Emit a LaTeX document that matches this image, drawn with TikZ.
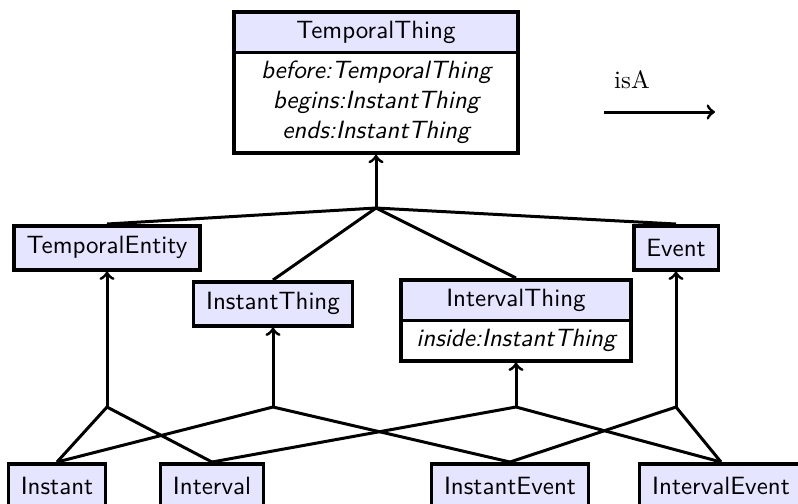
\documentclass[tikz,border=0pt]{standalone}
\usetikzlibrary{shapes.multipart}
\begin{document}
\begin{tikzpicture}[x=0.4pt,y=-0.4pt,
  cls/.style={draw, line width=1.4pt, fill=blue!10, font=\sffamily,
    inner xsep=5pt, minimum height=17.6pt, anchor=north},
  clsx/.style={rectangle split, rectangle split parts=2, draw, line width=1.4pt,
    rectangle split part fill={blue!10,white}, font=\sffamily, align=center,
    inner ysep=2.9pt, anchor=north},
  link/.style={line width=1.2pt},
  isa/.style={line width=1.2pt, ->}]
\useasboundingbox (0,0) rectangle (798,503);
\clip (0,0) rectangle (798,503);

% classes
\node[clsx, minimum width=113.6pt] (tt) at (376,10)
  {TemporalThing\nodepart{second}\itshape before:TemporalThing\\ \itshape begins:InstantThing\\ \itshape ends:InstantThing};
\node[cls] (te) at (107,224) {TemporalEntity};
\node[cls] (it) at (273,280) {InstantThing};
\node[clsx, minimum width=92pt] (vt) at (516,278)
  {IntervalThing\nodepart{second}\itshape inside:InstantThing};
\node[cls] (ev) at (676,224) {Event};
\node[cls] (in) at (57,462) {Instant};
\node[cls] (iv) at (212,462) {Interval};
\node[cls] (ie) at (510,462) {InstantEvent};
\node[cls] (ve) at (721,462) {IntervalEvent};

% junction points
\coordinate (jtt) at (376,208);
\coordinate (jte) at (107,407);
\coordinate (jit) at (273,407);
\coordinate (jvt) at (516,407);
\coordinate (jev) at (676,407);

% inheritance into TemporalThing
\draw[isa] (jtt) -- (tt.south);
\draw[link] (te.north) -- (jtt) -- (ev.north);
\draw[link] (it.north) -- (jtt) -- (vt.north);

% inheritance of the lower classes
\draw[isa] (jte) -- (te.south);
\draw[link] (in.north) -- (jte) -- (iv.north);
\draw[isa] (jit) -- (it.south);
\draw[link] (in.north) -- (jit) -- (ie.north);
\draw[isa] (jvt) -- (vt.south);
\draw[link] (iv.north) -- (jvt) -- (ve.north);
\draw[isa] (jev) -- (ev.south);
\draw[link] (ie.north) -- (jev) -- (ve.north);

% legend
\node (lbl) at (632,80) {isA};
\coordinate (la) at (604,112);
\coordinate (lb) at (715,112);
\draw[isa] (la) -- (lb);
\end{tikzpicture}
\end{document}
